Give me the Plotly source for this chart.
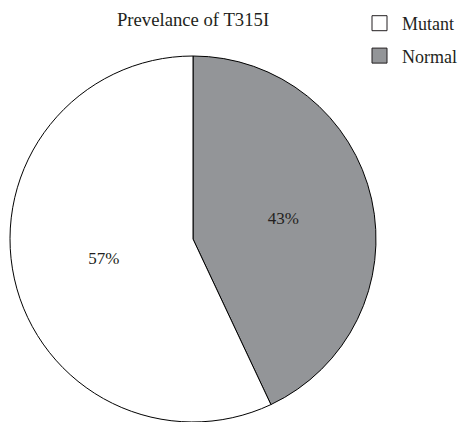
import plotly.graph_objects as go

labels = ["Mutant", "Normal"]
values = [57, 43]
colors = ["#ffffff", "#939598"]
title_text = "Prevelance of T315I"

FONT = "Liberation Serif, Times New Roman, serif"

fig = go.Figure()
# drawn clockwise from 12 o'clock, Normal first
fig.add_trace(go.Pie(
    labels=labels[::-1],
    values=values[::-1],
    sort=False,
    direction="clockwise",
    rotation=0,
    marker=dict(colors=colors[::-1], line=dict(color="#000000", width=1)),
    textinfo="percent",
    texttemplate="%{percent:.0%}",
    textposition="inside",
    insidetextorientation="horizontal",
    textfont=dict(family=FONT, size=17, color="#231f20"),
    domain=dict(x=[10/460, 376/460], y=[0, 366/422]),
    showlegend=False,
    hoverinfo="label+percent",
))

# legend entries (one per category)
for lab, col in zip(labels, colors):
    fig.add_trace(go.Scatter(
        x=[None], y=[None], mode="markers", name=lab,
        legendgroup=lab,
        marker=dict(symbol="square", size=15, color=col,
                    line=dict(color="#231f20", width=1)),
    ))

fig.update_layout(
    width=460, height=422,
    margin=dict(l=0, r=0, t=0, b=0, autoexpand=False),
    paper_bgcolor="white", plot_bgcolor="white",
    font=dict(family=FONT, size=18, color="#231f20"),
    title=dict(text=title_text, x=193/460, xanchor="center",
               y=1 - 19/422, yanchor="middle",
               font=dict(family=FONT, size=18.7, color="#231f20")),
    xaxis=dict(visible=False), yaxis=dict(visible=False),
    legend=dict(x=357/460, y=1 - 5/422, xanchor="left", yanchor="top",
                tracegroupgap=6, font=dict(family=FONT, size=18),
                itemwidth=35,
                bgcolor="rgba(0,0,0,0)"),
)

fig.write_html("out.html")
